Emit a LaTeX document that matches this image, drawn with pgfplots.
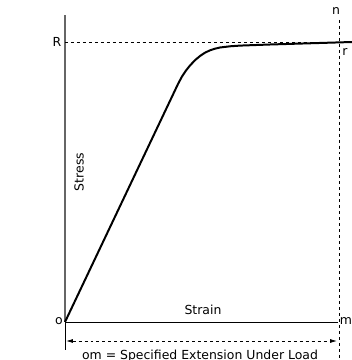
\documentclass[border=0pt]{standalone}
\usepackage{pgfplots}
\pgfplotsset{compat=1.18}
\usepackage{fontspec}
\setmainfont{DejaVu Sans}
\usetikzlibrary{arrows.meta}
\tikzset{lbl/.style={font=\fontsize{12.5}{15}\selectfont, inner sep=1pt}}

\begin{document}
\begin{tikzpicture}
\begin{axis}[
  name=ax,
  width=352bp, height=360bp, scale only axis,
  xmin=-65, xmax=287, ymin=-38, ymax=322,
  axis lines=none, clip=false,
]
% axes
\addplot[gray!80!black, line width=1.3pt] coordinates {(0,0) (0,307)};
\addplot[black, line width=0.9pt] coordinates {(0,0) (273,0)};
% reference dashed lines
\addplot[black, dashed, line width=0.8pt] coordinates {(0,280) (287,280)};
\addplot[black, dashed, line width=0.8pt] coordinates {(274,302) (274,-38)};
% stress-strain curve
\addplot[black, line width=2pt, line join=round] coordinates {
  (0,0) (113,238) (117,245.5) (121,251.5) (125,256.5) (130,261.8) (135,266)
  (140,269.3) (145,271.7) (150,273.3) (155,274.5) (165,275.7) (175,276.4)
  (205,277.5) (287,280)};
% extension dimension
\addplot[black, line width=0.8pt] coordinates {(0,0) (0,-28)};
\addplot[black, dashed, line width=0.8pt,
  {Latex[length=7pt,width=4pt]}-{Latex[length=7pt,width=4pt]}] coordinates {(1,-19) (272,-19)};
% labels
\node[lbl] at (axis cs:-8,280) {R};
\node[lbl] at (axis cs:271,311) {n};
\node[lbl] at (axis cs:280,270) {r};
\node[lbl] at (axis cs:-6,1) {o};
\node[lbl] at (axis cs:281,1) {m};
\node[lbl] at (axis cs:138,12) {Strain};
\node[lbl, rotate=90] at (axis cs:14,150) {Stress};
\node[lbl] at (axis cs:135,-34) {om = Specified Extension Under Load};
\end{axis}
\pgfresetboundingbox
\path (ax.south west) rectangle (ax.north east);
\end{tikzpicture}
\end{document}
